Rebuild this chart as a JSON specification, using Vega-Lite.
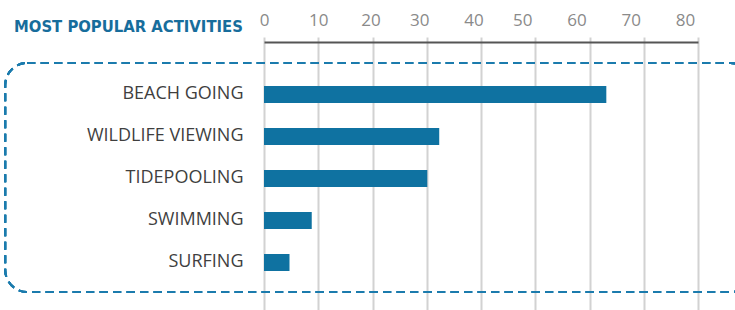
{
  "$schema": "https://vega.github.io/schema/vega-lite/v6.json",
  "autosize": {"type": "none"},
  "padding": {"left": 264, "top": 42, "right": 37, "bottom": 0},
  "width": 434,
  "height": 268,
  "background": "white",
  "title": {
    "text": "MOST POPULAR ACTIVITIES",
    "orient": "top",
    "anchor": "start",
    "frame": "group",
    "dx": -250,
    "dy": 41,
    "font": "DejaVu Sans Condensed",
    "fontWeight": "bold",
    "fontSize": 16.5,
    "color": "#176d9c",
    "baseline": "alphabetic"
  },
  "config": {
    "view": {"stroke": null}
  },
  "data": {
    "values": [
      {"activity": "BEACH GOING", "value": 63.1},
      {"activity": "WILDLIFE VIEWING", "value": 32.3},
      {"activity": "TIDEPOOLING", "value": 30.1},
      {"activity": "SWIMMING", "value": 8.8},
      {"activity": "SURFING", "value": 4.7}
    ]
  },
  "layer": [
    {
      "mark": {"type": "bar", "color": "#0f72a1"},
      "encoding": {
        "y": {
          "field": "activity",
          "type": "nominal",
          "sort": null,
          "scale": {"paddingInner": 0.595, "paddingOuter": 0.988, "align": 0.53},
          "axis": {
            "title": null,
            "domain": false,
            "ticks": false,
            "labelPadding": 21,
            "labelFont": "Open Sans",
            "labelFontSize": 18,
            "labelColor": "#3f3f3f",
            "labelFontWeight": 500
          }
        },
        "x": {
          "field": "value",
          "type": "quantitative",
          "scale": {"domain": [0, 80], "nice": false, "zero": true},
          "axis": {
            "orient": "top",
            "title": null,
            "values": [0, 10, 20, 30, 40, 50, 60, 70, 80],
            "grid": true,
            "gridColor": "#d2d2d2",
            "gridWidth": 2,
            "domainColor": "#555555",
            "domainWidth": 2,
            "tickColor": "#d2d2d2",
            "tickWidth": 2,
            "tickSize": 5,
            "labelPadding": 8,
            "labelFlush": false,
            "labelFont": "Open Sans",
            "labelFontSize": 17,
            "labelColor": "#8a8a8a",
            "labelOffset": {
              "condition": [
                {"test": "datum.value >= 50", "value": -13},
                {"test": "datum.value >= 30", "value": -7.5},
                {"test": "datum.value >= 20", "value": -2}
              ],
              "value": 0
            }
          }
        }
      }
    },
    {
      "mark": {
        "type": "rect",
        "fill": null,
        "fillOpacity": 0,
        "stroke": "#1b7bad",
        "strokeWidth": 2,
        "strokeDash": [8, 5.5],
        "cornerRadius": 22,
        "clip": false
      },
      "encoding": {
        "x": {"datum": -47.7, "type": "quantitative"},
        "x2": {"datum": 90},
        "y": {"datum": "BEACH GOING", "type": "nominal", "bandPosition": -1.353},
        "y2": {"datum": "SURFING", "bandPosition": 2.235}
      }
    }
  ]
}
